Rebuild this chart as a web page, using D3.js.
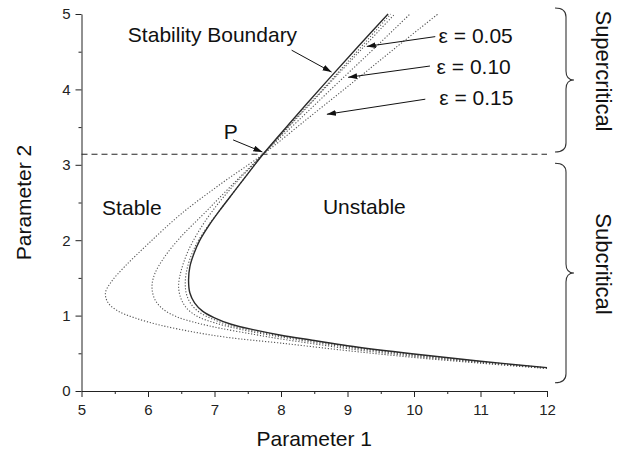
<!DOCTYPE html>
<html><head><meta charset="utf-8">
<script src="https://cdn.jsdelivr.net/npm/d3@7"></script>
<style>
html,body{margin:0;padding:0;background:#fff;}
svg{display:block;font-family:"Liberation Sans",Arial,Helvetica,sans-serif;}
</style>
</head><body>
<svg id="chart" width="618" height="454"></svg>
<script>
// ---- data ----
const xTicks = [5, 6, 7, 8, 9, 10, 11, 12];
const yTicks = [0, 1, 2, 3, 4, 5];
const xMinorTicks = [5.5, 6.5, 7.5, 8.5, 9.5, 10.5, 11.5];
const yMinorTicks = [0.5, 1.5, 2.5, 3.5, 4.5];
const criticalP2 = 3.14;

// solid stability boundary [Parameter 1, Parameter 2]
const boundary = [[12,0.31],[11,0.395],[10,0.49],[9,0.60],[8.5,0.67],[8,0.74],[7.6,0.81],[7.25,0.885],[7.0,0.97],[6.82,1.06],[6.70,1.17],[6.63,1.30],[6.61,1.47],[6.63,1.65],[6.69,1.82],[6.78,2.0],[6.92,2.2],[7.1,2.42],[7.3,2.65],[7.5,2.88],[7.73,3.14],[8.2,3.62],[8.68,4.1],[9.15,4.56],[9.61,5]];
// dotted curves
const epsSmall = [[12,0.307],[11,0.39],[10,0.483],[9,0.592],[8.5,0.66],[8,0.73],[7.6,0.795],[7.22,0.872],[6.97,0.955],[6.78,1.04],[6.65,1.15],[6.58,1.28],[6.56,1.44],[6.59,1.63],[6.66,1.82],[6.76,2.0],[6.91,2.2],[7.1,2.42],[7.3,2.65],[7.5,2.88],[7.73,3.14],[8.21,3.6],[8.7,4.07],[9.17,4.53],[9.65,5]];
const eps005 = [[12,0.305],[11,0.383],[10,0.472],[9,0.58],[8.5,0.645],[8,0.715],[7.4,0.815],[7.0,0.905],[6.74,0.99],[6.58,1.1],[6.49,1.24],[6.46,1.4],[6.5,1.6],[6.6,1.85],[6.75,2.1],[6.98,2.4],[7.3,2.74],[7.73,3.14],[8.24,3.62],[8.75,4.1],[9.23,4.55],[9.71,5]];
const eps010 = [[12,0.302],[11,0.376],[10,0.46],[9,0.562],[8.5,0.625],[8,0.69],[7.6,0.75],[7.1,0.83],[6.75,0.9],[6.43,0.985],[6.22,1.09],[6.1,1.22],[6.06,1.38],[6.1,1.55],[6.25,1.78],[6.5,2.05],[6.85,2.36],[7.25,2.72],[7.73,3.14],[8.3,3.62],[8.87,4.1],[9.41,4.55],[9.94,5]];
const eps015 = [[12,0.298],[11,0.368],[10,0.445],[9,0.535],[8,0.635],[7.2,0.71],[6.7,0.78],[6.2,0.87],[5.8,0.97],[5.55,1.06],[5.4,1.17],[5.36,1.3],[5.45,1.45],[5.65,1.65],[6.0,1.95],[6.5,2.35],[7.1,2.75],[7.73,3.14],[8.41,3.62],[9.09,4.1],[9.72,4.55],[10.36,5]];

// annotations (in data units)
const labelTexts = ["Stability Boundary", "ε = 0.05", "ε = 0.10", "ε = 0.15", "P", "Stable", "Unstable"];
const labelP1 = [6.97, 10.37, 10.34, 10.38, 7.14, 5.31, 8.63];
const labelP2 = [4.63, 4.62, 4.21, 3.79, 3.34, 2.33, 2.35];
const labelAnchor = ["middle", "start", "start", "start", "start", "start", "start"];
const arrowFrom = [[8.16,4.52],[10.32,4.70],[10.24,4.31],[10.17,3.87],[7.28,3.33]];
const arrowTo   = [[8.76,4.23],[9.29,4.57],[9.01,4.16],[8.69,3.67],[7.72,3.17]];

// regime braces on the right
const regimeNames = ["Supercritical", "Subcritical"];
const regimeTop = [5.08, 3.02];
const regimeBottom = [3.17, 0.11];

// ---- drawing ----
const svg = d3.select("#chart");
svg.append("rect").attr("width", 618).attr("height", 454).attr("fill", "#fff");

const x = d3.scaleLinear().domain([5, 12]).range([81.5, 547]);
const y = d3.scaleLinear().domain([0, 5]).range([391, 14]);

const axisColor = "#222";

// axes
svg.append("g").attr("transform", `translate(0,${y(0)})`)
  .call(d3.axisBottom(x).tickValues(xTicks).tickSize(6).tickSizeOuter(0).tickPadding(7).tickFormat(d3.format("d")));
svg.append("g").attr("transform", `translate(0,${y(0)})`)
  .call(d3.axisBottom(x).tickValues(xMinorTicks).tickSize(3).tickSizeOuter(0).tickFormat(""))
  .select(".domain").remove();
svg.append("g").attr("transform", `translate(${x(5)},0)`)
  .call(d3.axisLeft(y).tickValues(yTicks).tickSize(6).tickSizeOuter(0).tickPadding(5).tickFormat(d3.format("d")));
svg.append("g").attr("transform", `translate(${x(5)},0)`)
  .call(d3.axisLeft(y).tickValues(yMinorTicks).tickSize(3).tickSizeOuter(0).tickFormat(""))
  .select(".domain").remove();
svg.selectAll(".domain, .tick line").attr("stroke", axisColor).attr("stroke-width", 1);
svg.selectAll(".tick text").attr("font-size", 15).attr("fill", "#222")
  .attr("font-family", "Liberation Sans, Arial, sans-serif");

// axis titles
svg.append("text").attr("x", (x(5) + x(12)) / 2).attr("y", 446)
  .attr("text-anchor", "middle").attr("font-size", 21).attr("fill", "#111").text("Parameter 1");
svg.append("text").attr("transform", `translate(31,${(y(0) + y(5)) / 2}) rotate(-90)`)
  .attr("text-anchor", "middle").attr("font-size", 21).attr("fill", "#111").text("Parameter 2");

// dashed critical line
svg.append("line").attr("x1", x(5)).attr("x2", x(12)).attr("y1", y(criticalP2)).attr("y2", y(criticalP2))
  .attr("stroke", "#222").attr("stroke-width", 1).attr("stroke-dasharray", "6,4");

// curves
const line = d3.line().x(d => x(d[0])).y(d => y(d[1])).curve(d3.curveCatmullRom.alpha(0.5));
[eps015, eps010, eps005, epsSmall].forEach(c => {
  svg.append("path").attr("d", line(c)).attr("fill", "none")
    .attr("stroke", "#555").attr("stroke-width", 1.1).attr("stroke-dasharray", "1.2,1.8");
});
svg.append("path").attr("d", line(boundary)).attr("fill", "none")
  .attr("stroke", "#2a2a2a").attr("stroke-width", 1.4);

// arrow marker
svg.append("defs").append("marker").attr("id", "ah")
  .attr("markerUnits", "userSpaceOnUse").attr("markerWidth", 10).attr("markerHeight", 8)
  .attr("refX", 9).attr("refY", 3).attr("orient", "auto")
  .append("path").attr("d", "M0,0 L9,3 L0,6 Z").attr("fill", "#111");

arrowFrom.forEach((f, i) => {
  const t = arrowTo[i];
  svg.append("line").attr("x1", x(f[0])).attr("y1", y(f[1])).attr("x2", x(t[0])).attr("y2", y(t[1]))
    .attr("stroke", "#111").attr("stroke-width", 1).attr("marker-end", "url(#ah)");
});

// labels
labelTexts.forEach((t, i) => {
  svg.append("text").attr("x", x(labelP1[i])).attr("y", y(labelP2[i]))
    .attr("text-anchor", labelAnchor[i]).attr("font-size", 21).attr("fill", "#111").text(t);
});

// braces
const bx0 = 555, bx1 = 566, bx2 = 574, r = 9;
regimeNames.forEach((name, i) => {
  const y0 = y(regimeTop[i]), y1 = y(regimeBottom[i]), ym = (y0 + y1) / 2;
  const p = `M${bx0},${y0} Q${bx1},${y0} ${bx1},${y0 + r} L${bx1},${ym - r} Q${bx1},${ym} ${bx2},${ym} ` +
            `Q${bx1},${ym} ${bx1},${ym + r} L${bx1},${y1 - r} Q${bx1},${y1} ${bx0},${y1}`;
  svg.append("path").attr("d", p).attr("fill", "none").attr("stroke", "#333").attr("stroke-width", 1.1);
  svg.append("text").attr("transform", `translate(596,${ym - 9}) rotate(90)`)
    .attr("text-anchor", "middle").attr("font-size", 22).attr("fill", "#111").text(name);
});
</script>
</body></html>
